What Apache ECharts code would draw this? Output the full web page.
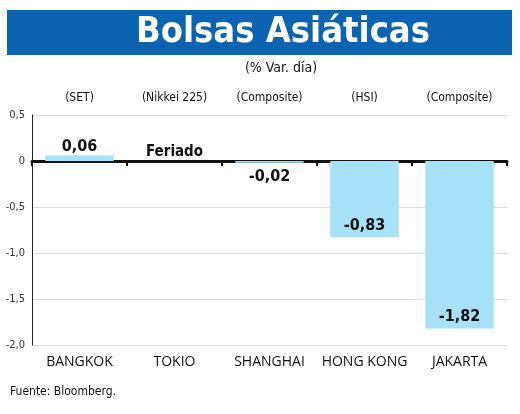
<!DOCTYPE html>
<html><head><meta charset="utf-8">
<script src="https://cdn.jsdelivr.net/npm/echarts@6/dist/echarts.min.js"></script>
<style>html,body{margin:0;padding:0;background:#fff}#c{width:520px;height:414px}</style>
</head><body><div id="c"></div>
<script>
const categories = ['BANGKOK','TOKIO','SHANGHAI','HONG KONG','JAKARTA'];
const indices = ['(SET)','(Nikkei 225)','(Composite)','(HSI)','(Composite)'];
const values = [0.06, 0, -0.02, -0.83, -1.82];
const valueLabels = ['0,06','Feriado','-0,02','-0,83','-1,82'];
const labelPos = ['top','top','bottom','insideBottom','insideBottom'];
const yTicks = {min:-2, max:0.5, interval:0.5};

const narrow = '"DejaVu Sans Condensed","Liberation Sans",sans-serif';
const regular = '"Open Sans","Liberation Sans",sans-serif';
const chart = echarts.init(document.getElementById('c'));
chart.setOption({
  animation:false,
  graphic:[
    {type:'rect', shape:{x:7,y:10,width:505,height:45}, style:{fill:'#0b63b1'}},
    {type:'text', x:283, y:33, style:{text:'Bolsas Asiáticas', fill:'#fff', font:'bold 36px '+narrow, textAlign:'center', textVerticalAlign:'middle'}},
    {type:'text', x:281, y:68, style:{text:'(% Var. día)', fill:'#111', font:'14px '+narrow, textAlign:'center', textVerticalAlign:'middle'}},
    {type:'text', x:10, y:392, style:{text:'Fuente: Bloomberg.', fill:'#111', font:'12px '+narrow, textAlign:'left', textVerticalAlign:'middle'}}
  ],
  grid:{left:32, right:13, top:115, bottom:69},
  xAxis:[
    {type:'category', data:categories, position:'bottom', axisLine:{show:false, onZero:false}, axisTick:{show:false},
     axisLabel:{interval:0, margin:10, fontSize:14, color:'#111', fontFamily:regular}},
    {type:'category', data:indices, position:'top', axisLine:{show:false, onZero:false}, axisTick:{show:false},
     axisLabel:{interval:0, margin:11, fontSize:12, color:'#111', fontFamily:narrow}},
    {type:'category', data:categories, position:'bottom', axisLine:{show:true, onZero:true, lineStyle:{color:'#111', width:3}},
     axisTick:{show:true, interval:0, length:5, lineStyle:{color:'#111', width:2}}, axisLabel:{show:false}}
  ],
  yAxis:{type:'value', min:yTicks.min, max:yTicks.max, interval:yTicks.interval,
    axisLine:{show:true, lineStyle:{color:'#222', width:1}}, axisTick:{show:false},
    splitLine:{lineStyle:{color:'#dcdcdc'}},
    axisLabel:{fontSize:11, color:'#333', margin:7, fontFamily:narrow,
      formatter:v=> v===0 ? '0' : v.toFixed(1).replace('.',',')}},
  series:[{type:'bar', xAxisIndex:0, barWidth:'72%', itemStyle:{color:'#a6e1f7'},
    data: values.map((v,i)=>({value:v, label:{show:true, position:labelPos[i], distance: labelPos[i]==='bottom'?6:(labelPos[i]==='top'?1:4),
      formatter:valueLabels[i], fontSize:i===1?15:16, fontWeight:'bold', color:'#111', fontFamily:narrow}}))}]
});
</script></body></html>
